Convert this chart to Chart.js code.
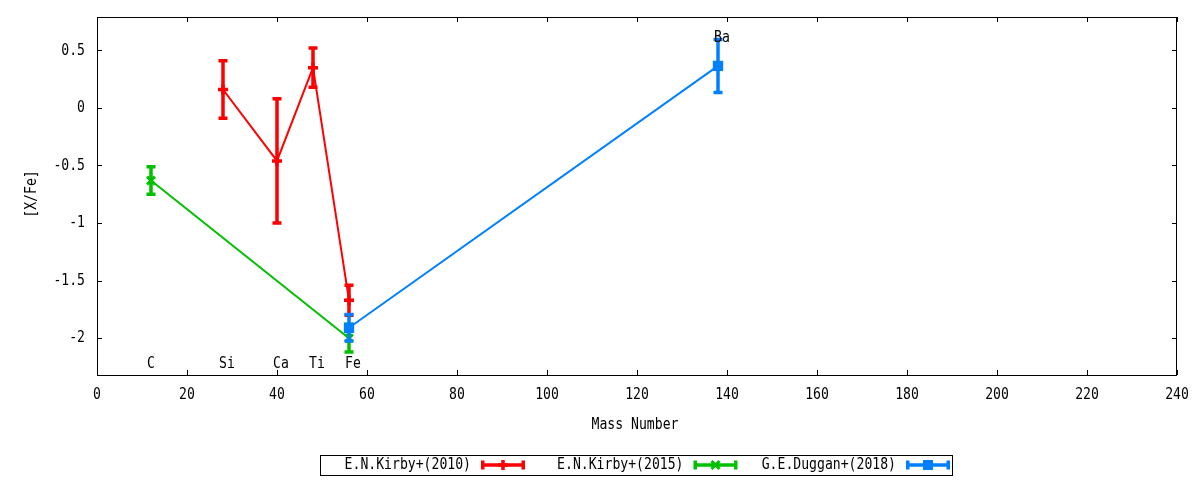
<!DOCTYPE html>
<html>
<head>
<meta charset="utf-8">
<title>[X/Fe] vs Mass Number</title>
<script src="https://cdn.jsdelivr.net/npm/chart.js@4.4.1/dist/chart.umd.min.js"></script>
<style>
  html, body { margin: 0; padding: 0; background: #fff; }
  #wrap { width: 1200px; height: 480px; position: relative; }
</style>
</head>
<body>
<div id="wrap"><canvas id="myChart"></canvas></div>
<script>
// values: mass number, [X/Fe], error
const kirby10Mass = [28, 40, 48, 56];
const kirby10Val = [0.16, -0.46, 0.35, -1.67];
const kirby10Err = [0.25, 0.54, 0.17, 0.13];

const kirby15Mass = [12, 56];
const kirby15Val = [-0.63, -2.0];
const kirby15Err = [0.12, 0.12];

const duggan18Mass = [56, 138];
const duggan18Val = [-1.91, 0.365];
const duggan18Err = [0.115, 0.23];

// element labels
const elementNames = ['C', 'Si', 'Ca', 'Ti', 'Fe', 'Ba'];
const elementMass = [12, 28, 40, 48, 56, 138];
const elementLabelY = [-2.225, -2.225, -2.225, -2.225, -2.225, 0.605];

// axis ticks
const xTicks = [0, 20, 40, 60, 80, 100, 120, 140, 160, 180, 200, 220, 240];
const yTicks = [-2, -1.5, -1, -0.5, 0, 0.5];
const yTickLabels = ['-2', '-1.5', '-1', '-0.5', '0', '0.5'];

const seriesNames = ['E.N.Kirby+(2010)', 'E.N.Kirby+(2015)', 'G.E.Duggan+(2018)'];

const FONT = '16px "DejaVu Sans Mono"';
const SQUEEZE = 0.82;

function drawText(ctx, str, x, y, align) {
    ctx.save();
    ctx.font = FONT;
    ctx.textBaseline = 'middle';
    ctx.textAlign = 'left';
    ctx.fillStyle = '#000';
    const w = ctx.measureText(str).width * SQUEEZE;
    let left = x;
    if (align === 'center') left = x - w / 2;
    else if (align === 'right') left = x - w;
    ctx.translate(left, y);
    ctx.scale(SQUEEZE, 1);
    ctx.fillText(str, 0, 0);
    ctx.restore();
}

function toPoints(xs, ys) {
    return xs.map((x, i) => ({ x: x, y: ys[i] }));
}

const errors = [kirby10Err, kirby15Err, duggan18Err];

function drawMarker(ctx, style, x, y, color) {
    ctx.save();
    ctx.strokeStyle = color;
    ctx.fillStyle = color;
    if (style === 'cross') {
        ctx.lineWidth = 3.5;
        ctx.beginPath();
        ctx.moveTo(x - 5, y); ctx.lineTo(x + 5, y);
        ctx.moveTo(x, y - 5); ctx.lineTo(x, y + 5);
        ctx.stroke();
    } else if (style === 'crossRot') {
        ctx.lineWidth = 3;
        ctx.beginPath();
        ctx.moveTo(x - 4, y - 4); ctx.lineTo(x + 4, y + 4);
        ctx.moveTo(x - 4, y + 4); ctx.lineTo(x + 4, y - 4);
        ctx.stroke();
    } else {
        ctx.fillRect(x - 5, y - 5, 10, 10);
    }
    ctx.restore();
}

const errorBarPlugin = {
    id: 'errorBars',
    beforeDatasetDraw(chart, args) {
        const ctx = chart.ctx;
        const ds = chart.data.datasets[args.index];
        const err = errors[args.index];
        const xs = chart.scales.x, ys = chart.scales.y;
        ctx.save();
        ctx.strokeStyle = ds.borderColor;
        ctx.lineWidth = 3.5;
        ctx.lineCap = 'butt';
        ds.data.forEach((p, i) => {
            const px = xs.getPixelForValue(p.x);
            const top = ys.getPixelForValue(p.y + err[i]);
            const bot = ys.getPixelForValue(p.y - err[i]);
            ctx.beginPath();
            ctx.moveTo(px, top); ctx.lineTo(px, bot);
            ctx.moveTo(px - 4.5, top); ctx.lineTo(px + 4.5, top);
            ctx.moveTo(px - 4.5, bot); ctx.lineTo(px + 4.5, bot);
            ctx.stroke();
        });
        ctx.restore();
    }
};

const framePlugin = {
    id: 'frame',
    afterDraw(chart) {
        const ctx = chart.ctx;
        const a = chart.chartArea;
        const xs = chart.scales.x, ys = chart.scales.y;
        ctx.save();
        ctx.strokeStyle = '#000';
        ctx.lineWidth = 1;
        ctx.strokeRect(a.left + 0.5, a.top + 0.5, a.right - a.left - 1, a.bottom - a.top);
        ctx.beginPath();
        xTicks.forEach(v => {
            const px = Math.round(xs.getPixelForValue(v)) + 0.5;
            ctx.moveTo(px, a.bottom); ctx.lineTo(px, a.bottom - 5);
            ctx.moveTo(px, a.top); ctx.lineTo(px, a.top + 5);
        });
        yTicks.forEach(v => {
            const py = Math.round(ys.getPixelForValue(v)) + 0.5;
            ctx.moveTo(a.left, py); ctx.lineTo(a.left + 5, py);
            ctx.moveTo(a.right, py); ctx.lineTo(a.right - 5, py);
        });
        ctx.stroke();
        ctx.restore();

        // tick labels
        xTicks.forEach(v => drawText(ctx, String(v), xs.getPixelForValue(v), a.bottom + 20, 'center'));
        yTicks.forEach((v, i) => drawText(ctx, yTickLabels[i], a.left - 12, ys.getPixelForValue(v), 'right'));

        // axis titles
        drawText(ctx, 'Mass Number', (a.left + a.right) / 2 - 2, 425, 'center');
        ctx.save();
        ctx.translate(31.5, (a.top + a.bottom) / 2 - 2);
        ctx.rotate(-Math.PI / 2);
        drawText(ctx, '[X/Fe]', 0, 0, 'center');
        ctx.restore();

        // element labels
        elementNames.forEach((n, i) => {
            drawText(ctx, n, xs.getPixelForValue(elementMass[i]) - 4, ys.getPixelForValue(elementLabelY[i]), 'left');
        });

        // legend
        const boxL = 320, boxR = 952, boxT = 455, boxB = 475, midY = 465;
        ctx.save();
        ctx.strokeStyle = '#000';
        ctx.lineWidth = 1;
        ctx.strokeRect(boxL + 0.5, boxT + 0.5, boxR - boxL, boxB - boxT);
        ctx.restore();
        chart.data.datasets.forEach((ds, i) => {
            const textRight = boxL + 151 + i * 212.5;
            drawText(ctx, ds.label, textRight, midY, 'right');
            const x1 = textRight + 10, x2 = textRight + 54;
            ctx.save();
            ctx.strokeStyle = ds.borderColor;
            ctx.lineWidth = 3.5;
            ctx.beginPath();
            ctx.moveTo(x1, midY); ctx.lineTo(x2, midY);
            ctx.moveTo(x1 + 1.75, midY - 4.5); ctx.lineTo(x1 + 1.75, midY + 4.5);
            ctx.moveTo(x2 - 1.75, midY - 4.5); ctx.lineTo(x2 - 1.75, midY + 4.5);
            ctx.stroke();
            ctx.restore();
            drawMarker(ctx, ds.pointStyle, (x1 + x2) / 2, midY, ds.borderColor);
        });
    }
};

const ctx = document.getElementById('myChart').getContext('2d');
const myChart = new Chart(ctx, {
    type: 'line',
    data: {
        datasets: [{
            label: seriesNames[0],
            data: toPoints(kirby10Mass, kirby10Val),
            borderColor: '#ff0000',
            backgroundColor: '#ff0000',
            borderWidth: 2,
            pointStyle: 'cross',
            pointRadius: 5,
            pointBorderWidth: 3.5,
            order: 3
        }, {
            label: seriesNames[1],
            data: toPoints(kirby15Mass, kirby15Val),
            borderColor: '#00c000',
            backgroundColor: '#00c000',
            borderWidth: 2,
            pointStyle: 'crossRot',
            pointRadius: 5.5,
            pointBorderWidth: 3,
            order: 2
        }, {
            label: seriesNames[2],
            data: toPoints(duggan18Mass, duggan18Val),
            borderColor: '#0080ff',
            backgroundColor: '#0080ff',
            borderWidth: 2,
            pointStyle: 'rect',
            pointRadius: 7.3,
            pointBorderWidth: 0,
            order: 1
        }]
    },
    options: {
        responsive: true,
        maintainAspectRatio: false,
        animation: false,
        events: [],
        layout: { padding: { top: 17, right: 23, left: 0, bottom: 0 } },
        plugins: {
            legend: { display: false },
            tooltip: { enabled: false }
        },
        scales: {
            x: {
                type: 'linear',
                min: 0,
                max: 240,
                grid: { display: false, drawTicks: false },
                border: { display: false },
                ticks: { display: false },
                afterBuildTicks: s => { s.ticks = xTicks.map(v => ({ value: v })); },
                afterFit: s => { s.height = 105; }
            },
            y: {
                type: 'linear',
                min: -2.32,
                max: 0.79,
                grid: { display: false, drawTicks: false },
                border: { display: false },
                ticks: { display: false },
                afterBuildTicks: s => { s.ticks = yTicks.map(v => ({ value: v })); },
                afterFit: s => { s.width = 97; }
            }
        }
    },
    plugins: [errorBarPlugin, framePlugin]
});
</script>
</body>
</html>
